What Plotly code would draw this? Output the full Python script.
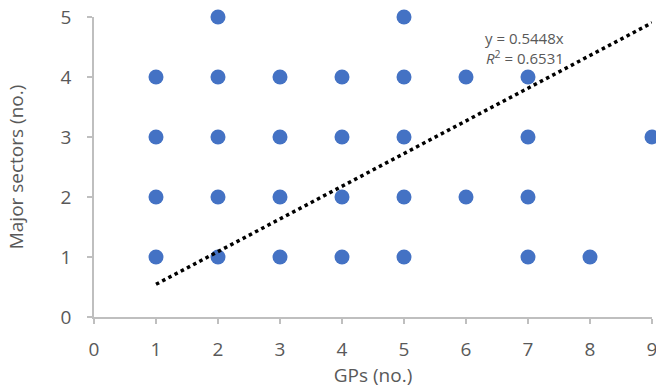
import plotly.graph_objects as go

gps = [1, 1, 1, 1, 2, 2, 2, 2, 2, 3, 3, 3, 3, 4, 4, 4, 4, 5, 5, 5, 5, 5, 6, 6, 7, 7, 7, 7, 8, 9]
sectors = [1, 2, 3, 4, 1, 2, 3, 4, 5, 1, 2, 3, 4, 1, 2, 3, 4, 1, 2, 3, 4, 5, 2, 4, 1, 2, 3, 4, 1, 3]
slope = 0.5448
r2 = 0.6531
trend_x = [1, 9]
trend_y = [slope * v for v in trend_x]

gray = "#595959"
axis_col = "#bfbfbf"
font = "Open Sans"

fig = go.Figure()
fig.add_trace(go.Scatter(x=gps, y=sectors, mode="markers",
                         marker=dict(size=15, color="#4472C4"),
                         cliponaxis=False, showlegend=False))
fig.add_trace(go.Scatter(x=trend_x, y=trend_y, mode="lines",
                         line=dict(color="black", width=3.5, dash="dot"),
                         cliponaxis=False, showlegend=False))

fig.add_annotation(x=6.95, y=4.65, xref="x", yref="y", showarrow=False,
                   text=f"y = {slope}x",
                   font=dict(family=font, size=15, color=gray))
fig.add_annotation(x=6.95, y=4.33, xref="x", yref="y", showarrow=False,
                   text=f"<i>R</i><sup>2</sup> = {r2}",
                   font=dict(family=font, size=15, color=gray))

fig.update_xaxes(range=[0, 9], tickmode="linear", dtick=1, showgrid=False, zeroline=False,
                 showline=True, linecolor=axis_col, linewidth=1.5, automargin=False,
                 ticks="outside", ticklen=5, tickcolor=axis_col, tickwidth=1.5,
                 ticklabelstandoff=9, ticklabeloverflow="allow",
                 tickfont=dict(family=font, size=19, color=gray),
                 title=dict(text="GPs (no.)", font=dict(family=font, size=19, color=gray), standoff=2))
fig.update_yaxes(range=[0, 5], tickmode="linear", dtick=1, showgrid=False, zeroline=False,
                 showline=True, linecolor=axis_col, linewidth=1.5, automargin=False,
                 ticks="outside", ticklen=5, tickcolor=axis_col, tickwidth=1.5,
                 ticklabelstandoff=12, ticklabeloverflow="allow",
                 tickfont=dict(family=font, size=19, color=gray),
                 title=dict(text="Major sectors (no.)", font=dict(family=font, size=19, color=gray), standoff=32))

fig.update_layout(width=656, height=390, margin=dict(l=94, r=4, t=17, b=73),
                  plot_bgcolor="white", paper_bgcolor="white")

fig.write_html("out.html")
